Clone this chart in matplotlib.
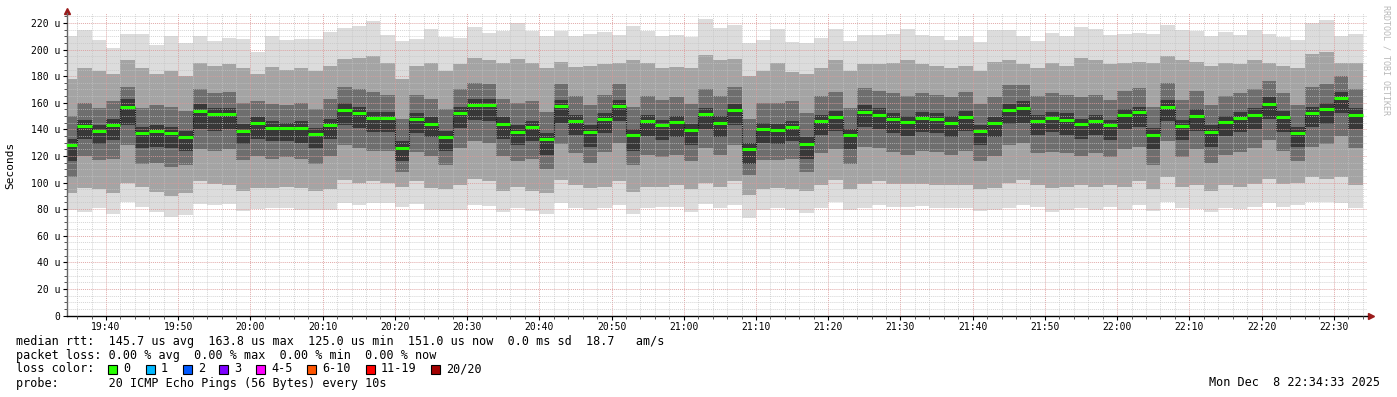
import numpy as np
import matplotlib
matplotlib.use("Agg")
import matplotlib.pyplot as plt
from matplotlib.ticker import MultipleLocator, FixedLocator, FuncFormatter
from matplotlib.patches import Rectangle

# time axis in minutes after 19:00; one smoke column per 2 minutes
t_start = 34.6    # 19:34:36
t_end = 214.6     # 22:34:36
col_start = np.arange(34, 214, 2)

tick_minutes = [40, 50, 60, 70, 80, 90, 100, 110, 120, 130, 140, 150, 160, 170, 180, 190, 200, 210]
tick_labels = ["19:40", "19:50", "20:00", "20:10", "20:20", "20:30", "20:40", "20:50", "21:00",
               "21:10", "21:20", "21:30", "21:40", "21:50", "22:00", "22:10", "22:20", "22:30"]

# median rtt per column (us)
median = [128.3, 142.4, 138.4, 143.4, 157.0, 137.4, 138.7, 137.1, 134.6, 153.5,
          151.2, 151.2, 139.1, 144.4, 141.2, 141.2, 141.2, 136.4, 143.4, 154.7,
          152.5, 148.2, 148.5, 125.8, 147.9, 144.2, 134.6, 152.5, 158.5, 158.0,
          144.2, 137.9, 141.4, 132.4, 157.5, 146.2, 137.9, 147.9, 157.5, 135.4,
          146.0, 142.9, 145.4, 139.4, 151.2, 144.9, 154.5, 125.0, 140.2, 139.4,
          141.9, 129.1, 146.5, 149.0, 135.4, 153.0, 151.0, 147.9, 145.4, 148.7,
          147.9, 145.1, 149.5, 138.9, 144.7, 154.5, 156.0, 146.0, 148.7, 147.0,
          143.7, 146.5, 142.9, 150.5, 152.7, 135.9, 156.7, 142.7, 150.2, 137.9,
          145.4, 148.5, 151.0, 159.0, 149.2, 137.6, 152.5, 155.5, 163.8, 151.0]

# slowest ping per column
ping_max = [210, 214.5, 207.5, 201, 211.7, 211.7, 203.7, 210, 205, 210,
            206.7, 208.7, 207.7, 198.4, 210, 207, 208, 208, 213.3, 216.3,
            217.5, 221.3, 210.8, 206.2, 208, 215.8, 209.5, 208.7, 216.8, 212.5,
            214, 220, 214, 210, 214, 210.5, 212, 213.3, 210.8, 218,
            214, 210.2, 210.8, 209.2, 223, 216.3, 218.3, 205, 207, 215.3,
            205.5, 205, 208.7, 215.3, 206.2, 210.8, 210.8, 212, 215.3, 211.2,
            210.2, 207.5, 210.2, 205.7, 214.8, 214.8, 210.2, 206.7, 212.5, 210.2,
            217, 215.3, 211.2, 211.7, 212.8, 212, 218.3, 215, 214.3, 210,
            213.3, 211.2, 215, 211.7, 209.8, 207, 220, 222, 210.2, 211.7]

# fastest ping per column
ping_min = [79.4, 77.6, 81.2, 76.1, 85.7, 81.9, 78.1, 74.4, 75.6, 83.6,
            83.1, 83.6, 78.6, 80.1, 80.6, 80.6, 79.4, 79.4, 79.4, 84.9,
            83.1, 84.4, 84.4, 81.4, 83.6, 79.4, 79.4, 79.4, 83.1, 82.4,
            77.5, 81.1, 78.6, 76.4, 84.4, 81.0, 79.4, 80.6, 83.1, 76.4,
            80.6, 81.4, 81.9, 78.1, 83.6, 81.0, 83.1, 73.6, 79.4, 80.6,
            79.4, 77.4, 81.1, 85.7, 79.4, 80.6, 83.1, 81.9, 81.9, 82.6,
            81.1, 81.1, 80.6, 78.6, 79.6, 81.1, 83.1, 81.6, 77.6, 79.6,
            81.1, 79.6, 81.4, 79.6, 83.1, 78.6, 85.7, 80.6, 79.9, 77.6,
            80.6, 79.9, 81.9, 84.4, 81.9, 83.1, 85.7, 85.2, 84.4, 80.6]

# outer smoke band (approx. 2nd / 19th ping)
smoke1_lo = [92, 96, 95, 92, 100, 97, 93, 90, 92, 101, 99, 98, 94, 96, 96, 97, 96, 94, 95, 102,
             100, 101, 100, 97, 101, 96, 95, 98, 103, 101, 94, 97, 94, 92, 102, 98, 96, 97, 101, 93,
             97, 97, 98, 95, 100, 97, 101, 91, 95, 96, 95, 94, 98, 102, 95, 99, 101, 99, 99, 99,
             98, 98, 98, 95, 96, 100, 102, 98, 96, 97, 98, 97, 98, 97, 101, 95, 104, 97, 98, 94,
             98, 97, 99, 103, 99, 100, 104, 103, 104, 98]
smoke1_hi = [178, 186, 184, 182, 192, 186, 182, 184, 180, 190, 188, 189, 186, 182, 187, 185, 186, 184, 188, 193,
             194, 195, 190, 178, 188, 190, 184, 189, 194, 192, 190, 193, 190, 186, 191, 187, 188, 189, 190, 192,
             190, 186, 187, 186, 196, 192, 193, 180, 184, 190, 183, 182, 186, 192, 184, 189, 189, 190, 192, 189,
             188, 186, 188, 184, 191, 192, 189, 186, 190, 188, 194, 192, 189, 190, 191, 190, 195, 192, 191, 188,
             190, 189, 192, 190, 188, 186, 197, 198, 190, 190]

# middle smoke band (approx. quartiles)
smoke2_lo = [104, 120, 117, 118, 128, 114, 115, 112, 113, 125, 124, 125, 117, 120, 118, 119, 118, 114, 120, 128,
             126, 124, 124, 108, 123, 120, 113, 126, 131, 130, 120, 116, 118, 110, 129, 122, 115, 123, 130, 113,
             121, 119, 121, 116, 126, 121, 128, 106, 117, 117, 118, 108, 122, 125, 114, 127, 126, 123, 121, 124,
             123, 121, 124, 116, 120, 128, 130, 122, 123, 122, 120, 122, 119, 125, 127, 113, 131, 119, 125, 115,
             121, 123, 126, 132, 124, 116, 127, 129, 135, 126]
smoke2_hi = [150, 160, 156, 161, 172, 156, 158, 157, 154, 170, 167, 168, 160, 161, 159, 158, 160, 155, 163, 172,
             170, 168, 166, 148, 166, 163, 155, 170, 175, 174, 163, 160, 161, 153, 174, 165, 158, 166, 174, 157,
             165, 162, 164, 159, 170, 165, 172, 148, 160, 160, 161, 152, 165, 168, 156, 171, 169, 167, 165, 167,
             166, 164, 168, 159, 164, 173, 173, 165, 167, 166, 164, 166, 162, 169, 171, 157, 175, 162, 169, 158,
             165, 167, 170, 176, 167, 158, 172, 174, 180, 170]

# inner smoke band (pings around the median)
smoke3_lo = [116, 133, 129, 132, 143, 126, 127, 126, 124, 140, 139, 140, 129, 133, 131, 131, 130, 126, 133, 143,
             141, 138, 138, 116, 137, 134, 124, 141, 147, 146, 133, 128, 131, 121, 145, 136, 127, 137, 146, 124,
             135, 132, 134, 128, 140, 134, 143, 114, 130, 129, 131, 118, 136, 139, 125, 142, 140, 137, 135, 138,
             137, 134, 139, 128, 134, 144, 145, 136, 138, 136, 133, 136, 132, 140, 142, 125, 146, 132, 139, 127,
             135, 138, 140, 148, 138, 127, 142, 144, 152, 140]
smoke3_hi = [133, 147, 143, 148, 163, 142, 143, 142, 139, 159, 156, 156, 144, 149, 146, 145, 146, 141, 148, 160,
             157, 153, 153, 131, 152, 149, 139, 157, 163, 163, 149, 143, 146, 137, 162, 151, 143, 152, 162, 140,
             151, 147, 150, 144, 156, 150, 159, 130, 145, 144, 146, 134, 151, 154, 140, 158, 156, 152, 150, 153,
             152, 150, 154, 143, 149, 159, 161, 151, 153, 152, 148, 151, 147, 155, 157, 141, 162, 147, 155, 143,
             150, 153, 156, 164, 154, 142, 157, 160, 168, 156]

loss_labels = ["0", "1", "2", "3", "4-5", "6-10", "11-19", "20/20"]
loss_colors = ["#26ff00", "#00b8ff", "#0059ff", "#7e00ff", "#ff00ff", "#ff5500", "#ff0000", "#a10000"]

mono = "DejaVu Sans Mono"
W, H = 1397, 397
fig = plt.figure(figsize=(W / 100, H / 100), dpi=100)
ax = fig.add_axes([67 / W, (H - 315.5) / H, 1300 / W, 302.5 / H])

edges = np.append(col_start, col_start[-1] + 2)
bands = [(ping_min, ping_max, "#dcdcdc"),
         (smoke1_lo, smoke1_hi, "#a4a4a4"),
         (smoke2_lo, smoke2_hi, "#6e6e6e"),
         (smoke3_lo, smoke3_hi, "#383838")]
for lo, hi, c in bands:
    ax.stairs(hi, edges, baseline=lo, fill=True, color=c, linewidth=0, zorder=1)

med = np.array(median)
ax.vlines(col_start[1:], med[:-1], med[1:], colors="#111111", lw=0.8,
          linestyles=(0, (1, 1)), zorder=3)
ax.hlines(med, col_start, col_start + 2, colors="#26ff00", lw=2.2, zorder=4)

ax.set_xlim(t_start, t_end)
ax.set_ylim(0, 227.5)
ax.xaxis.set_major_locator(FixedLocator(tick_minutes))
ax.set_xticklabels(tick_labels)
ax.xaxis.set_minor_locator(MultipleLocator(2))
ax.yaxis.set_major_locator(MultipleLocator(20))
ax.yaxis.set_minor_locator(MultipleLocator(5))
ax.yaxis.set_major_formatter(FuncFormatter(lambda v, p: "0" if v == 0 else f"{v:.0f} u"))

ax.set_axisbelow(False)
ax.grid(which="minor", color="#c4c4c4", lw=0.7, ls=(0, (1, 1)), alpha=0.7)
ax.grid(which="major", color="#dc9a9a", lw=0.7, ls=(0, (1, 1)), alpha=0.85)

for s in ["top", "right"]:
    ax.spines[s].set_visible(False)
ax.spines["left"].set_color("#666666")
ax.spines["bottom"].set_color("#000000")
ax.spines["left"].set_linewidth(1.0)
ax.spines["bottom"].set_linewidth(1.0)

ax.tick_params(which="major", length=3, width=0.8, pad=2, labelsize=7, colors="#000000")
ax.tick_params(which="minor", length=2, width=0.7, colors="#555555")
for lab in ax.get_xticklabels() + ax.get_yticklabels():
    lab.set_fontfamily(mono)

ax.plot([0], [1.008], marker="^", ms=4.5, color="#9b1b1b", transform=ax.transAxes, clip_on=False)
ax.plot([1.003], [0], marker=">", ms=4.5, color="#9b1b1b", transform=ax.transAxes, clip_on=False)

fig.text(10 / W, 1 - 165 / H, "Seconds", rotation=90, ha="center", va="center",
         fontsize=8, family=mono)
fig.text(1386 / W, 1 - 60 / H, "RRDTOOL / TOBI OETIKER", rotation=270, ha="center",
         va="center", fontsize=6, family=mono, color="#b8b8b8")

fs = 8.5
fig.text(16 / W, 1 - 341 / H,
         "median rtt:  145.7 us avg  163.8 us max  125.0 us min  151.0 us now  0.0 ms sd  18.7   am/s",
         ha="left", va="center", fontsize=fs, family=mono)
fig.text(16 / W, 1 - 355 / H,
         "packet loss: 0.00 % avg  0.00 % max  0.00 % min  0.00 % now",
         ha="left", va="center", fontsize=fs, family=mono)
fig.text(16 / W, 1 - 369 / H, "loss color:", ha="left", va="center", fontsize=fs, family=mono)
fig.text(16 / W, 1 - 383 / H, "probe:       20 ICMP Echo Pings (56 Bytes) every 10s",
         ha="left", va="center", fontsize=fs, family=mono)
fig.text(1380 / W, 1 - 383 / H, "Mon Dec  8 22:34:33 2025", ha="right", va="center",
         fontsize=fs, family=mono)

box_x = [108, 145.7, 182.7, 219, 256, 307, 365.7, 430.7]
for bx, lab, c in zip(box_x, loss_labels, loss_colors):
    fig.patches.append(Rectangle((bx / W, 1 - 374 / H), 9 / W, 9 / H, transform=fig.transFigure,
                                 facecolor=c, edgecolor="#000000", lw=0.8))
    fig.text((bx + 15) / W, 1 - 369 / H, lab, ha="left", va="center", fontsize=fs, family=mono)

fig.savefig("out.png", dpi=100)
